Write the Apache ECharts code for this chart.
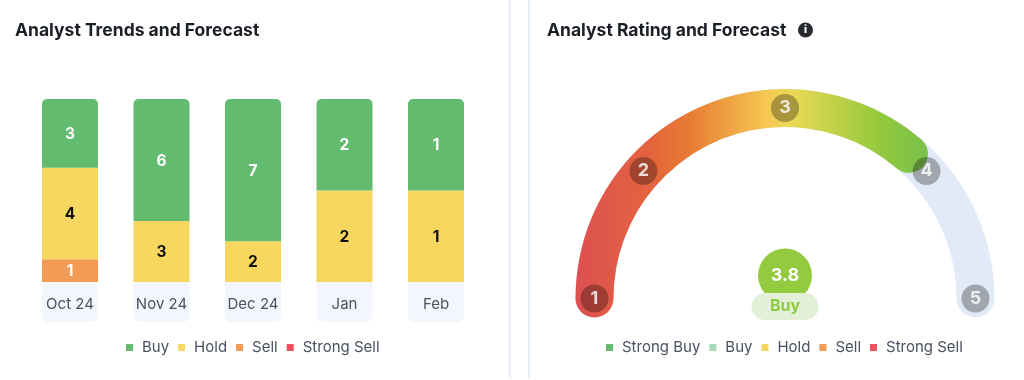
<!DOCTYPE html>
<html><head><meta charset="utf-8">
<style>html,body{margin:0;padding:0;background:#fff}#c{width:1024px;height:380px}</style>
<script src="https://cdn.jsdelivr.net/npm/echarts@6/dist/echarts.min.js"></script>
</head><body><div id="c"></div>
<script>
const months = ['Oct 24','Nov 24','Dec 24','Jan','Feb'];
const buy = [3,6,7,2,1];
const hold = [4,3,2,2,1];
const sell = [1,0,0,0,0];
const strongSell = [0,0,0,0,0];
const ratingScore = 3.8;
const ratingLabel = 'Buy';
const ratingNodes = [1,2,3,4,5];
const ratingAngles = [180,138,90,42,0];
const ratingScoreAngle = 49.4;
const rightLegend = ['Strong Buy','Buy','Hold','Sell','Strong Sell'];
const leftLegend = ['Buy','Hold','Sell','Strong Sell'];

const FONT = 'Inter, "Noto Sans", sans-serif';
const TXT = '#4a5160';
const C = {green:'#62bb6e', yellow:'#f8d760', orange:'#f29b57', red:'#ef4f5f', mint:'#a5dcb5', track:'#e3eaf7'};
const CX = 785, CY = 298.5, OUTER = 209.5, BAND = 38;

const totals = months.map((_, i) => buy[i]+hold[i]+sell[i]+strongSell[i]);
function seg(name, arr, color, labelColor, radius) {
  return {
    name, type:'bar', stack:'s', barWidth:56, xAxisIndex:0, yAxisIndex:0, silent:true,
    itemStyle:{color, borderRadius:radius||0},
    label:{show:true, position:'inside', offset:[0,1], color:labelColor, fontFamily:FONT, fontWeight:700, fontSize:15.5,
      formatter:p => p.data.raw ? String(p.data.raw) : ''},
    data: arr.map((v,i) => ({value:v/totals[i], raw:v}))
  };
}
const base = {type:'gauge', center:[CX,CY], radius:OUTER, startAngle:180, endAngle:0, min:0, max:180,
  splitLine:{show:false}, axisTick:{show:false}, axisLabel:{show:false}, pointer:{show:false}, silent:true, animation:false};
const fill = new echarts.graphic.LinearGradient(576,0,928,0,[
  {offset:0,color:'#dd5050'},{offset:0.21,color:'#e4643f'},{offset:0.32,color:'#e87a32'},
  {offset:0.53,color:'#f5c452'},{offset:0.61,color:'#ecd856'},{offset:0.86,color:'#94ca3c'},{offset:1,color:'#78c04c'}],true);
const legendBase = {icon:'rect', itemWidth:7, itemHeight:7, top:340, padding:0, itemGap:9, selectedMode:false,
  textStyle:{color:TXT, fontFamily:FONT, fontSize:15, padding:[0,0,0,4]}};
const titleStyle = {color:'#1b1f26', fontFamily:FONT, fontWeight:700, fontSize:17.5};

const option = {
  animation:false,
  backgroundColor:'#fff',
  title:[
    {text:'Analyst Trends and Forecast', left:15, top:22, padding:0, textStyle:titleStyle},
    {text:'Analyst Rating and Forecast', left:547, top:22, padding:0, textStyle:titleStyle},
    {text:'{i|i}', left:798, top:22.5, padding:0, textStyle:{rich:{i:{color:'#fff', fontFamily:FONT, fontWeight:800, fontSize:11, width:15, height:15, lineHeight:15, align:'center', backgroundColor:'#26292e', borderRadius:8}}}}
  ],
  grid:{left:24.25, top:99, width:457.5, height:183},
  xAxis:{type:'category', data:months, axisLine:{show:false}, axisTick:{show:false},
    axisLabel:{interval:0, margin:0, color:TXT, fontFamily:FONT, fontSize:15, width:56, height:36, lineHeight:36, padding:[4,0,0,0], align:'center', verticalAlign:'top',
      backgroundColor:'#f3f7fd', borderRadius:[0,0,6,6]}},
  yAxis:{type:'value', min:0, max:1, show:false},
  polar:{center:[CX,CY], radius:OUTER},
  angleAxis:{type:'value', min:0, max:360, startAngle:0, clockwise:false, show:false},
  radiusAxis:{type:'value', min:0, max:OUTER, show:false},
  legend:[
    Object.assign({}, legendBase, {left:126, data:leftLegend.map((n,i)=>({name:n, itemStyle:{color:[C.green,C.yellow,C.orange,C.red][i]}}))}),
    Object.assign({}, legendBase, {left:606, data:rightLegend.map((n,i)=>({name:n, itemStyle:{color:[C.green,C.mint,C.yellow,C.orange,C.red][i]}}))})
  ],
  graphic:[
    {type:'rect', shape:{x:509,y:-10,width:1.5,height:388,r:1}, style:{fill:'#dde7f6'}, silent:true},
    {type:'rect', shape:{x:528,y:-10,width:1.5,height:388,r:1}, style:{fill:'#dde7f6'}, silent:true}
  ],
  series:[
    seg('Strong Sell', strongSell, C.red, '#fff'),
    seg('Sell', sell, C.orange, '#fff'),
    seg('Hold', hold, C.yellow, '#111'),
    seg('Buy', buy, C.green, '#fff', [5,5,0,0]),
    {name:'Strong Buy', type:'bar', stack:'s', data:[], itemStyle:{color:C.green}},
    Object.assign({}, base, {z:2,
      axisLine:{roundCap:true, lineStyle:{width:BAND, color:[[1,C.track]]}},
      progress:{show:true, roundCap:true, width:BAND, itemStyle:{color:fill}},
      title:{show:false},
      detail:{show:true, offsetCenter:[0,-23], formatter:()=>String(ratingScore), width:54, height:54, lineHeight:54, padding:0, borderRadius:27,
        backgroundColor:'#94ca3f', color:'#fff', fontFamily:FONT, fontWeight:700, fontSize:18, valueAnimation:false},
      data:[{value:180-ratingScoreAngle, name:ratingLabel}]}),
    Object.assign({}, base, {z:3,
      axisLine:{show:false}, progress:{show:false}, detail:{show:false},
      title:{show:true, offsetCenter:[0,8], width:67, height:27, lineHeight:27, padding:0, borderRadius:13.5, align:'center',
        backgroundColor:'#e3f0d8', color:'#8fca42', fontFamily:FONT, fontWeight:700, fontSize:16},
      data:[{value:0, name:ratingLabel}]}),
    {type:'scatter', coordinateSystem:'polar', z:5, silent:true, symbol:'circle', symbolSize:28,
      itemStyle:{color:'rgba(0,0,0,0.37)'},
      label:{show:true, position:'inside', color:'#fff', fontFamily:FONT, fontWeight:700, fontSize:18, formatter:p=>String(p.data[2])},
      data:ratingNodes.map((n,i)=>[OUTER-BAND/2, ratingAngles[i], n])}
  ]
};
echarts.init(document.getElementById('c'), null, {renderer:'canvas'}).setOption(option);
</script></body></html>
